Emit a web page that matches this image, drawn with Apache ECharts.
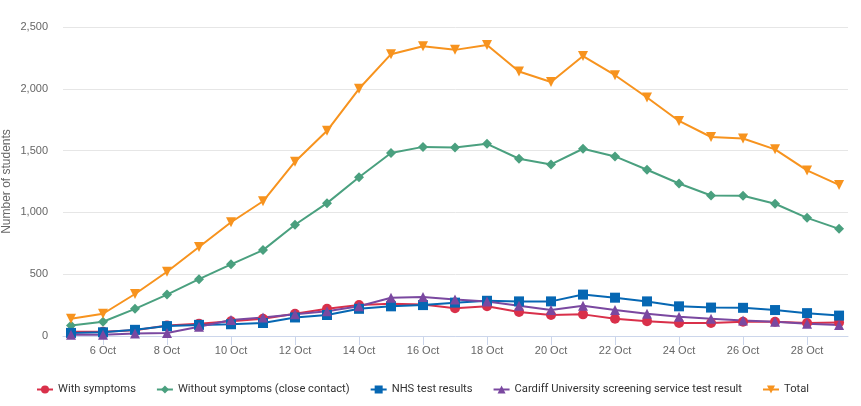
<!DOCTYPE html>
<html>
<head>
<meta charset="utf-8">
<script src="https://cdn.jsdelivr.net/npm/echarts@6/dist/echarts.min.js"></script>
<style>html,body{margin:0;padding:0;background:#fff}#c{width:861px;height:406px}</style>
</head>
<body>
<div id="c"></div>
<script>
// Day of October for each point
const days = [5,6,7,8,9,10,11,12,13,14,15,16,17,18,19,20,21,22,23,24,25,26,27,28,29];
const tickDays = [6,8,10,12,14,16,18,20,22,24,26,28];
const yTicks = [0,500,1000,1500,2000,2500];

const withSymptoms = [35,35,47,85,100,120,140,180,220,250,260,255,225,240,195,170,175,140,120,105,105,115,115,105,110];
const withoutSymptoms = [85,115,220,335,460,580,695,900,1075,1285,1480,1530,1525,1555,1434,1388,1515,1453,1345,1234,1137,1135,1070,956,867];
const nhsResults = [25,30,50,80,90,95,105,150,170,220,240,250,270,285,280,280,335,310,280,240,230,228,210,185,165];
const cardiffResults = [10,10,20,25,75,130,150,175,200,240,310,315,295,280,245,210,245,210,180,155,140,125,115,100,90];
const total = [140,180,340,520,720,920,1090,1410,1660,2000,2280,2345,2315,2355,2140,2055,2265,2110,1930,1740,1610,1598,1510,1340,1222];

function pairs(vals){ return days.map((d,i)=>[d, vals[i]]); }

const seriesDefs = [
  {name:'With symptoms', data:withSymptoms, color:'#d9304a', symbol:'circle', size:10},
  {name:'Without symptoms (close contact)', data:withoutSymptoms, color:'#4aa07f', symbol:'diamond', size:10},
  {name:'NHS test results', data:nhsResults, color:'#0667b3', symbol:'rect', size:10},
  {name:'Cardiff University screening service test result', data:cardiffResults, color:'#7a48a0', symbol:'triangle', size:10},
  {name:'Total', data:total, color:'#f7931e', symbol:'triangle', size:10, rotate:180}
];

const chart = echarts.init(document.getElementById('c'));
chart.setOption({
  animation:false,
  textStyle:{fontFamily:'Liberation Sans, Arial, sans-serif'},
  grid:{left:63, right:13, top:27, bottom:70, containLabel:false, outerBoundsMode:'none'},
  legend:{
    bottom:11, left:36, padding:0, itemWidth:16, itemHeight:10, itemGap:20,
    textStyle:{fontSize:11.2, color:'#333', fontFamily:'Roboto'},
    data: seriesDefs.map(s=>s.name)
  },
  xAxis:{
    type:'value', min:4.75, max:29.28,
    axisLine:{show:true, lineStyle:{color:'#ccd6eb', width:1}},
    axisTick:{show:true, customValues:tickDays, length:9, lineStyle:{color:'#ccd6eb'}},
    axisLabel:{customValues:tickDays, formatter:v=>Math.round(v)+' Oct', color:'#666', fontSize:11, margin:9},
    splitLine:{show:false}
  },
  yAxis:{
    type:'value', min:0, max:2500, interval:500,
    name:'Number of students', nameLocation:'middle', nameGap:50, nameMoveOverlap:false,
    nameTextStyle:{color:'#666', fontSize:12},
    axisLine:{show:false}, axisTick:{show:false},
    axisLabel:{color:'#666', fontSize:11, margin:15, formatter:v=>v.toLocaleString('en-GB')},
    splitLine:{lineStyle:{color:'#e6e6e6'}}
  },
  series: seriesDefs.map(s=>({
    name:s.name, type:'line', data:pairs(s.data),
    symbol:s.symbol, symbolSize:s.size, symbolRotate:s.rotate||0,
    showAllSymbol:true,
    itemStyle:{color:s.color}, lineStyle:{color:s.color, width:2},
    emphasis:{disabled:true}
  }))
});
</script>
</body>
</html>
